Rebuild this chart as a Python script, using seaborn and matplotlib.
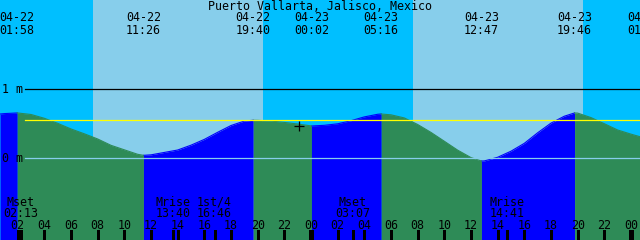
import numpy as np
import pandas as pd
import matplotlib
matplotlib.use('Agg')
import matplotlib.pyplot as plt
import matplotlib.transforms as mtransforms
import seaborn as sns

title = 'Puerto Vallarta, Jalisco, Mexico'

# hours counted from 04-22 00:00, tide height in metres
hours = list(range(1, 49))
heights = [0.648, 0.657, 0.635, 0.58, 0.507, 0.425, 0.355, 0.28, 0.188, 0.123,
           0.058, 0.05, 0.085, 0.12, 0.19, 0.274, 0.377, 0.475, 0.54, 0.55,
           0.54, 0.52, 0.497, 0.47, 0.478, 0.50, 0.545, 0.60, 0.638, 0.63,
           0.585, 0.49, 0.375, 0.247, 0.118, 0.01, -0.038, 0.015, 0.103, 0.217,
           0.37, 0.51, 0.61, 0.655, 0.59, 0.501, 0.41, 0.35]

# high / low tides
ext_times = [1.967, 11.433, 19.667, 24.033, 29.267, 36.783, 43.767, 49.017]
ext_heights = [0.657, 0.043, 0.551, 0.468, 0.642, -0.039, 0.657, 0.30]
ext_dates = ['04-22', '04-22', '04-22', '04-23', '04-23', '04-23', '04-23', '04-24']
ext_clock = ['01:58', '11:26', '19:40', '00:02', '05:16', '12:47', '19:46', '01:01']

# window edges
t_start, h_start = 0.675, 0.642
t_end, h_end = 48.675, 0.313

sunrise = [7.65, 31.65]
sunset = [20.4, 44.42]

moon_times = [2.217, 13.667, 16.767, 27.117, 38.683]
moon_names = ['Mset', 'Mrise', '1st/4', 'Mset', 'Mrise']
moon_clock = ['02:13', '13:40', '16:46', '03:07', '14:41']

mean_level = 0.55
now_t, now_h = 23.1, 0.47

NIGHT = '#00BFFF'
DAY = '#87CEEB'
RISE = '#0000FF'
FALL = '#2E8B57'

W, H = 640, 240
y_bot = (158.3 - H) / 69.0
y_top = 158.3 / 69.0

plt.rcParams['font.family'] = ['DejaVu Sans Mono']
fs = 8.4

fig = plt.figure(figsize=(W / 100, H / 100), dpi=100)
ax = fig.add_axes([0, 0, 1, 1])
ax.set_xlim(t_start, t_end)
ax.set_ylim(y_bot, y_top)
ax.axis('off')
ax.axvspan(t_start, t_end, color=NIGHT, lw=0, zorder=0)
for a, b in zip(sunrise, sunset):
    ax.axvspan(a, b, color=DAY, lw=0, zorder=0)

# curve points
pts = pd.DataFrame({'t': hours + ext_times + [t_start, t_end],
                    'h': heights + ext_heights + [h_start, h_end]})
pts = pts.drop_duplicates('t').sort_values('t').reset_index(drop=True)

bounds = [pts.t.min()] + ext_times + [pts.t.max()]
bounds = sorted(set(bounds))
rows = []
for i in range(len(bounds) - 1):
    a, b = bounds[i], bounds[i + 1]
    seg = pts[(pts.t >= a) & (pts.t <= b)].copy()
    if len(seg) < 2:
        continue
    phase = 'rise' if seg.h.iloc[-1] > seg.h.iloc[0] else 'fall'
    seg['phase'] = phase
    seg['seg'] = i
    rows.append(seg)
curve = pd.concat(rows)

for _, seg in curve.groupby('seg'):
    col = RISE if seg.phase.iloc[0] == 'rise' else FALL
    ax.fill_between(seg.t, seg.h, y_bot, color=col, lw=0, antialiased=False, zorder=1)
sns.lineplot(data=curve, x='t', y='h', hue='phase', units='seg', estimator=None,
             palette={'rise': RISE, 'fall': FALL}, legend=False, lw=0.8, ax=ax, zorder=2)

# level lines
x0 = 25 / W
ax.axhline(1.0, xmin=x0, color='black', lw=0.9, zorder=3)
ax.axhline(0.0, xmin=x0, color=DAY, lw=0.9, zorder=3)
ax.axhline(mean_level, xmin=x0, color='yellow', lw=0.9, zorder=3)
ax.text(2 / W * (t_end - t_start) + t_start, 1.0, '1 m', fontsize=fs, va='center', ha='left', zorder=4)
ax.text(2 / W * (t_end - t_start) + t_start, 0.0, '0 m', fontsize=fs, va='center', ha='left', zorder=4)
ax.plot([now_t], [now_h], marker='+', color='black', ms=7, mew=0.9, zorder=4)

# texts placed in pixel rows
tr = mtransforms.blended_transform_factory(ax.transData, fig.transFigure)
def row(py):
    return 1 - py / H

fig.text(0.5, row(6), title, fontsize=fs, ha='center', va='center')
for t, d, c in zip(ext_times, ext_dates, ext_clock):
    ax.text(t, row(17.5), d, fontsize=fs, ha='center', va='center', transform=tr, zorder=4)
    ax.text(t, row(30), c, fontsize=fs, ha='center', va='center', transform=tr, zorder=4)

for t, n, c in zip(moon_times, moon_names, moon_clock):
    ax.text(t, row(202), n, fontsize=fs, ha='center', va='center', transform=tr, zorder=4)
    ax.text(t, row(213.5), c, fontsize=fs, ha='center', va='center', transform=tr, zorder=4)
    ax.vlines(t, row(240), row(230), color='black', lw=0.75, transform=tr, antialiased=False, zorder=4)

for t in range(2, 49, 2):
    ax.text(t, row(225.5), f'{t % 24:02d}', fontsize=fs, ha='center', va='center', transform=tr, zorder=4)
    lw = 2.2 if t % 24 == 0 else 0.75
    ax.vlines(t, row(240), row(230), color='black', lw=lw, transform=tr, antialiased=False, zorder=4)

fig.savefig('out.png', dpi=100)
